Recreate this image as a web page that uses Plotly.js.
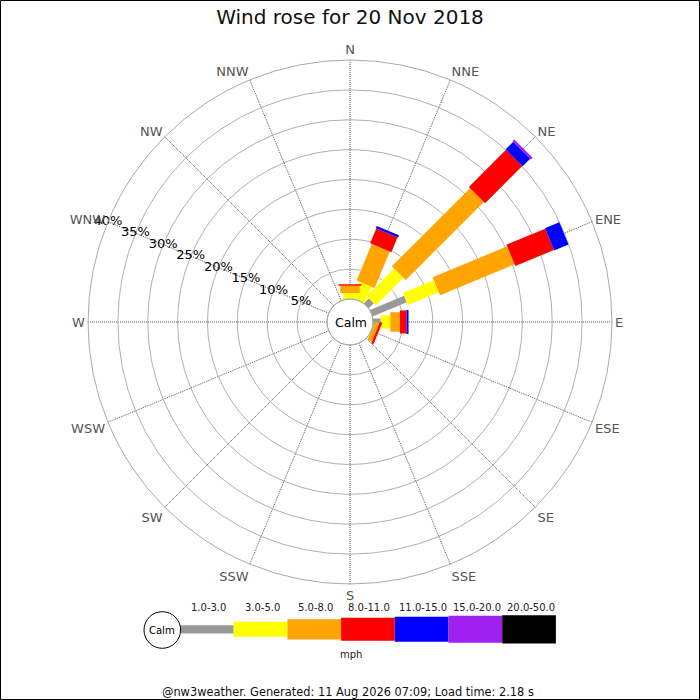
<!DOCTYPE html>
<html>
<head>
<meta charset="utf-8">
<script src="https://cdn.plot.ly/plotly-3.0.1.min.js"></script>
<style>
  html, body { margin: 0; padding: 0; background: #fff; }
  #chart { width: 700px; height: 700px; }
</style>
</head>
<body>
<div id="chart"></div>
<script>
// ---- data ----
const directions = ['N','NNE','NE','ENE','E','ESE','SE','SSE','S','SSW','SW','WSW','W','WNW','NW','NNW'];
const speedBins = ['1.0-3.0','3.0-5.0','5.0-8.0','8.0-11.0','11.0-15.0','15.0-20.0','20.0-50.0'];
const speedUnit = 'mph';
// frequency (%) per direction for each speed bin
const freq_1_3   = [0,   0,   1.2, 6.2, 1.3, 0,   0,0,0,0,0,0,0,0,0,0];
const freq_3_5   = [1.0, 3.0, 6.5, 5.6, 1.6, 0,   0,0,0,0,0,0,0,0,0,0];
const freq_5_8   = [1.2, 6.6, 18.5,13.5,1.6, 0.8, 0,0,0,0,0,0,0,0,0,0];
const freq_8_11  = [0.25,2.7, 8.8, 7.0, 1.1, 0.4, 0,0,0,0,0,0,0,0,0,0];
const freq_11_15 = [0,   0.4, 1.8, 2.6, 0.35,0,   0,0,0,0,0,0,0,0,0,0];
const freq_15_20 = [0,   0,   0.4, 0,   0,   0,   0,0,0,0,0,0,0,0,0,0];
const freq_20_50 = [0,   0,   0,   0,   0,   0,   0,0,0,0,0,0,0,0,0,0];
const radialTicks = [5,10,15,20,25,30,35,40];
const radialTickLabels = ['5%','10%','15%','20%','25%','30%','35%','40%'];
const titleText = 'Wind rose for 20 Nov 2018';
const calmLabel = 'Calm';
const footerText = '@nw3weather. Generated: 11 Aug 2026 07:09; Load time: 2.18 s';

// ---- styling ----
const binColors = ['#999999','#ffff00','#ffa500','#ff0000','#0000ff','#a020f0','#000000'];
const binWidths = [7, 13, 19.5, 23, 24, 26, 28];
const legendHeights = [8.3, 15, 20.3, 23, 25, 27, 28.3];
const FONT = 'DejaVu Sans';
const W = 700, H = 700;
const CX = 350, CY = 322, R = 262, HOLE = 23;
const px = x => x / W;
const py = y => 1 - y / H;

const freqs = [freq_1_3, freq_3_5, freq_5_8, freq_8_11, freq_11_15, freq_15_20, freq_20_50];
const thetas = directions.map((d, i) => i * 22.5);

const traces = [];
const cum = directions.map(() => 0);
freqs.forEach((f, b) => {
  const r = [], t = [];
  f.forEach((v, i) => {
    if (v > 0) {
      r.push(cum[i], cum[i] + v, null);
      t.push(thetas[i], thetas[i], null);
    }
    cum[i] += v;
  });
  traces.push({
    type: 'scatterpolar', mode: 'lines', r: r, theta: t,
    line: { color: binColors[b], width: binWidths[b] },
    connectgaps: false, hoverinfo: 'skip', showlegend: false, name: speedBins[b]
  });
});
// radial tick labels along the WNW spoke
traces.push({
  type: 'scatterpolar', mode: 'text',
  r: radialTicks, theta: radialTicks.map(() => 292.5),
  text: radialTickLabels,
  textfont: { family: FONT, size: 13, color: '#000' },
  hoverinfo: 'skip', showlegend: false
});

const shapes = [];
const annotations = [];
// border
shapes.push({ type: 'rect', xref: 'paper', yref: 'paper', x0: px(0.5), x1: px(699.5), y0: py(0.5), y1: py(699.5),
  line: { color: '#000', width: 1 }, fillcolor: 'rgba(0,0,0,0)' });
// calm circle in centre
shapes.push({ type: 'circle', xref: 'paper', yref: 'paper', x0: px(CX - HOLE), x1: px(CX + HOLE), y0: py(CY + HOLE), y1: py(CY - HOLE),
  line: { color: '#aaaaaa', width: 1 }, fillcolor: 'rgba(0,0,0,0)' });
annotations.push({ xref: 'paper', yref: 'paper', x: px(CX + 1), y: py(CY), text: calmLabel, showarrow: false,
  xanchor: 'center', yanchor: 'middle', font: { family: FONT, size: 12.5, color: '#000' } });

// legend
const legX0 = 180, legStep = 53.7, legCY = 629.3;
speedBins.forEach((lab, i) => {
  const x0 = legX0 + i * legStep, x1 = x0 + legStep;
  const h = legendHeights[i];
  shapes.push({ type: 'rect', xref: 'paper', yref: 'paper', x0: px(x0), x1: px(x1), y0: py(legCY + h / 2), y1: py(legCY - h / 2),
    line: { width: 0 }, fillcolor: binColors[i] });
  annotations.push({ xref: 'paper', yref: 'paper', x: px((x0 + x1) / 2 + 1.5), y: py(607.3), text: lab, showarrow: false,
    xanchor: 'center', yanchor: 'middle', font: { family: FONT, size: 10, color: '#222' } });
});
shapes.push({ type: 'circle', xref: 'paper', yref: 'paper', x0: px(162.3 - 18.3), x1: px(162.3 + 18.3), y0: py(630 + 18.3), y1: py(630 - 18.3),
  line: { color: '#000', width: 1 }, fillcolor: '#fff' });
annotations.push({ xref: 'paper', yref: 'paper', x: px(162.3), y: py(630), text: calmLabel, showarrow: false,
  xanchor: 'center', yanchor: 'middle', font: { family: FONT, size: 10, color: '#000' } });
annotations.push({ xref: 'paper', yref: 'paper', x: px(351), y: py(654), text: speedUnit, showarrow: false,
  xanchor: 'center', yanchor: 'middle', font: { family: FONT, size: 10, color: '#222' } });
annotations.push({ xref: 'paper', yref: 'paper', x: px(348), y: py(692), text: footerText, showarrow: false,
  xanchor: 'center', yanchor: 'middle', font: { family: FONT, size: 11.4, color: '#111' } });

const layout = {
  width: W, height: H,
  margin: { l: 0, r: 0, t: 0, b: 0 },
  paper_bgcolor: '#fff',
  font: { family: FONT },
  title: { text: titleText, x: 0.5, xanchor: 'center', y: 1 - 17 / H, yanchor: 'middle',
    font: { family: FONT, size: 20, color: '#111' } },
  showlegend: false,
  polar: {
    domain: { x: [px(CX - R), px(CX + R)], y: [py(CY + R), py(CY - R)] },
    hole: HOLE / R,
    bgcolor: '#fff',
    angularaxis: {
      direction: 'clockwise', rotation: 90,
      tickmode: 'array', tickvals: thetas, ticktext: directions,
      ticks: '', showline: true, linecolor: '#aaaaaa', linewidth: 1,
      showgrid: true, gridcolor: '#555555', gridwidth: 1, griddash: '1px,1px',
      tickfont: { family: FONT, size: 13, color: '#555555' }
    },
    radialaxis: {
      range: [0, 40], tickmode: 'array', tickvals: radialTicks,
      showticklabels: false, ticks: '', showline: false,
      showgrid: true, gridcolor: '#b0b0b0', gridwidth: 1, angle: 157.5
    }
  },
  shapes: shapes,
  annotations: annotations
};

Plotly.newPlot('chart', traces, layout, { staticPlot: true, displayModeBar: false });
</script>
</body>
</html>
